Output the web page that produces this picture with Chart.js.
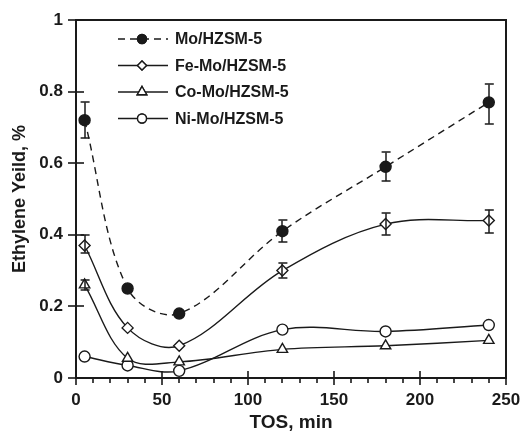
<!DOCTYPE html>
<html lang="en">
<head>
  <meta charset="UTF-8" />
  <title>Ethylene Yield vs TOS</title>
  <script src="https://cdn.jsdelivr.net/npm/chart.js"></script>
  <style>
    body {
      margin: 0;
      padding: 0;
      background: #ffffff;
    }
    .chart-box {
      position: relative;
      width: 522px;
      height: 434px;
    }
  </style>
</head>
<body>
  <div class="chart-box">
    <canvas id="yieldChart"></canvas>
  </div>
  <script>
    // time on stream, min
    const tos = [5, 30, 60, 120, 180, 240];

    // ethylene yield, %
    const moYield   = [0.72, 0.25, 0.18, 0.41, 0.59, 0.77];
    const feYield   = [0.37, 0.14, 0.09, 0.30, 0.43, 0.44];
    const coYield   = [0.26, 0.055, 0.045, 0.08, 0.09, 0.105];
    const niYield   = [0.06, 0.035, 0.02, 0.135, 0.13, 0.148];

    // error bars (low / high), null = none drawn
    const moLow  = [0.67, null, null, 0.38, 0.55, 0.71];
    const moHigh = [0.77, null, null, 0.44, 0.63, 0.82];
    const feLow  = [0.35, null, null, 0.28, 0.40, 0.405];
    const feHigh = [0.40, null, null, 0.32, 0.46, 0.47];
    const coLow  = [0.245, null, null, null, null, null];
    const coHigh = [0.275, null, null, null, null, null];

    const labels = ['Mo/HZSM-5', 'Fe-Mo/HZSM-5', 'Co-Mo/HZSM-5', 'Ni-Mo/HZSM-5'];
    const xTicks = [0, 50, 100, 150, 200, 250];
    const yTicks = [0, 0.2, 0.4, 0.6, 0.8, 1];

    const ink = '#1a1a1a';
    const fontFamily = '"Liberation Sans", Arial, sans-serif';

    function toPoints(ys) {
      return tos.map((x, i) => ({ x: x, y: ys[i] }));
    }

    function series(label, ys, style, fill, dash, low, high) {
      return {
        label: label,
        data: toPoints(ys),
        borderColor: ink,
        borderWidth: 1.4,
        borderDash: dash,
        tension: 0.35,
        pointStyle: style,
        pointRadius: style === 'triangle' ? 6 : 5.5,
        pointBackgroundColor: fill,
        pointBorderColor: ink,
        pointBorderWidth: 1.4,
        errLow: low,
        errHigh: high
      };
    }

    const datasets = [
      series(labels[0], moYield, 'circle', ink, [7, 5], moLow, moHigh),
      series(labels[1], feYield, 'rectRot', '#ffffff', [], feLow, feHigh),
      series(labels[2], coYield, 'triangle', '#ffffff', [], coLow, coHigh),
      series(labels[3], niYield, 'circle', '#ffffff', [], null, null)
    ];

    function vline(ctx, x, y1, y2, w) {
      w = w || 1.5;
      ctx.fillRect(Math.round(x) - w / 2, Math.min(y1, y2), w, Math.abs(y2 - y1));
    }
    function hline(ctx, x1, x2, y, w) {
      w = w || 1.5;
      ctx.fillRect(Math.min(x1, x2), Math.round(y) - w / 2, Math.abs(x2 - x1), w);
    }

    // error bars, frame, tick marks, legend
    const extras = {
      id: 'extras',
      afterDraw(chart) {
        const ctx = chart.ctx;
        const xs = chart.scales.x;
        const ys = chart.scales.y;
        const L = xs.left, R = xs.right, T = ys.top, B = ys.bottom;
        ctx.save();
        ctx.setLineDash([]);
        ctx.fillStyle = ink;

        // error bars
        chart.data.datasets.forEach(ds => {
          if (!ds.errLow) return;
          tos.forEach((t, i) => {
            if (ds.errLow[i] == null) return;
            const px = xs.getPixelForValue(t);
            const y1 = ys.getPixelForValue(ds.errLow[i]);
            const y2 = ys.getPixelForValue(ds.errHigh[i]);
            vline(ctx, px, y1, y2);
            hline(ctx, px - 4, px + 5, y1);
            hline(ctx, px - 4, px + 5, y2);
          });
        });

        // frame
        vline(ctx, L, T - 1, B + 1, 2);
        vline(ctx, R, T - 1, B + 1, 2);
        hline(ctx, L - 1, R + 1, T, 2);
        hline(ctx, L - 1, R + 1, B, 2);

        // x ticks: minor every 10, major every 50
        for (let v = 0; v <= 250; v += 10) {
          const px = xs.getPixelForValue(v);
          if (v % 50 === 0) vline(ctx, px, B - 7, B + 7, 1.6);
          else vline(ctx, px, B, B + 5, 1.6);
        }
        // y ticks
        yTicks.forEach(v => {
          hline(ctx, L - 8, L + 8, ys.getPixelForValue(v), 1.6);
        });

        // legend inside the plot, upper left
        ctx.font = 'bold 16px ' + fontFamily;
        ctx.textBaseline = 'middle';
        ctx.strokeStyle = ink;
        chart.data.datasets.forEach((ds, i) => {
          const y = T + 19 + i * 26.5;
          ctx.lineWidth = 1.4;
          ctx.setLineDash(ds.borderDash);
          ctx.beginPath();
          ctx.moveTo(L + 42, y); ctx.lineTo(L + 92, y);
          ctx.stroke();
          ctx.setLineDash([]);
          ctx.fillStyle = ds.pointBackgroundColor;
          Chart.helpers.drawPoint(ctx, {
            pointStyle: ds.pointStyle,
            radius: ds.pointStyle === 'triangle' ? 5.5 : 4.5,
            rotation: 0,
            borderWidth: 1.4
          }, L + 66, y);
          ctx.fill();
          ctx.stroke();
          ctx.fillStyle = ink;
          ctx.fillText(ds.label, L + 99, y + 1);
        });
        ctx.restore();
      }
    };

    new Chart(document.getElementById('yieldChart'), {
      type: 'line',
      data: { datasets: datasets },
      plugins: [extras],
      options: {
        responsive: true,
        maintainAspectRatio: false,
        animation: false,
        layout: { padding: { left: 9, top: 20, right: 16, bottom: 0 } },
        plugins: {
          legend: { display: false },
          tooltip: { enabled: false }
        },
        scales: {
          x: {
            type: 'linear',
            min: 0,
            max: 250,
            afterFit(scale) {
              scale.height = 56;
              scale.paddingLeft = 0;
              scale.paddingRight = 0;
            },
            afterBuildTicks(scale) { scale.ticks = xTicks.map(v => ({ value: v })); },
            grid: { display: false, drawTicks: false },
            border: { display: false },
            ticks: {
              color: ink,
              padding: 12,
              maxRotation: 0,
              autoSkip: false,
              font: { family: fontFamily, size: 17, weight: 'bold' }
            },
            title: {
              display: true,
              text: 'TOS, min',
              color: ink,
              padding: { top: 0, bottom: 0 },
              font: { family: fontFamily, size: 19, weight: 'bold' }
            }
          },
          y: {
            min: 0,
            max: 1,
            afterFit(scale) {
              scale.width = 67;
              scale.paddingTop = 0;
              scale.paddingBottom = 0;
            },
            afterBuildTicks(scale) { scale.ticks = yTicks.map(v => ({ value: v })); },
            grid: { display: false, drawTicks: false },
            border: { display: false },
            ticks: {
              color: ink,
              padding: 13,
              callback: v => String(+v.toFixed(1)),
              font: { family: fontFamily, size: 17, weight: 'bold' }
            },
            title: {
              display: true,
              text: 'Ethylene Yeild, %',
              color: ink,
              padding: { top: 0, bottom: 0 },
              font: { family: fontFamily, size: 18, weight: 'bold' }
            }
          }
        }
      }
    });
  </script>
</body>
</html>
